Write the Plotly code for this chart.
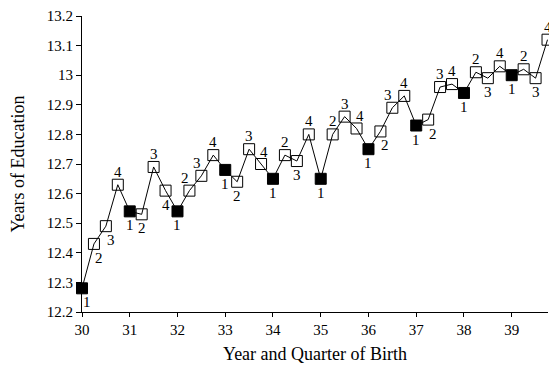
import plotly.graph_objects as go

years = [30 + i * 0.25 for i in range(40)]
quarters = ["1", "2", "3", "4"] * 10
education = [
    12.28, 12.43, 12.49, 12.63,
    12.54, 12.53, 12.69, 12.61,
    12.54, 12.61, 12.66, 12.73,
    12.68, 12.64, 12.75, 12.70,
    12.65, 12.73, 12.71, 12.80,
    12.65, 12.80, 12.86, 12.82,
    12.75, 12.81, 12.89, 12.93,
    12.83, 12.85, 12.96, 12.97,
    12.94, 13.01, 12.99, 13.03,
    13.00, 13.02, 12.99, 13.12,
]
label_side = [
    "below-right", "below-right", "below-right", "above",
    "below", "below", "above", "below",
    "below", "above-left", "above-left", "above",
    "below", "below", "above", "above-right",
    "below", "above", "below", "above",
    "below", "above", "above", "above-right",
    "below", "below-right", "above-left", "above",
    "below", "below-right", "above", "above",
    "below", "above", "below", "above",
    "below", "above", "below", "above",
]
x_ticks = [30, 31, 32, 33, 34, 35, 36, 37, 38, 39]
x_ticktext = ["30", "31", "32", "33", "34", "35", "36", "37", "38", "39"]
y_ticks = [12.2, 12.3, 12.4, 12.5, 12.6, 12.7, 12.8, 12.9, 13.0, 13.1, 13.2]
y_ticktext = ["12.2", "12.3", "12.4", "12.5", "12.6", "12.7", "12.8", "12.9", "13", "13.1", "13.2"]

symbols = ["square" if q == "1" else "square-open" for q in quarters]

font = "Liberation Serif"

fig = go.Figure()
fig.add_trace(go.Scatter(
    x=years, y=education,
    mode="lines+markers",
    line=dict(color="black", width=1),
    marker=dict(symbol=symbols, size=11, color="black", line=dict(width=1, color="black")),
    cliponaxis=False,
    showlegend=False,
))

# pixel offsets of the quarter labels relative to their marker
shifts = {
    "below": (0, -14),
    "below-right": (5, -14),
    "above": (0, 13),
    "above-left": (-4, 13),
    "above-right": (3, 12),
}
for xv, yv, q, side in zip(years, education, quarters, label_side):
    dx, dy = shifts[side]
    fig.add_annotation(
        x=xv, y=yv, text=q, showarrow=False,
        xshift=dx, yshift=dy,
        font=dict(family=font, size=15, color="black"),
    )

# page body has an 8px default margin, so the figure is sized to fit inside it
fig.update_layout(
    width=549, height=359,
    margin=dict(l=74, r=9, t=8, b=55, autoexpand=False),
    paper_bgcolor="white", plot_bgcolor="white",
    font=dict(family=font, size=15, color="black"),
    xaxis=dict(
        range=[30, 39.76], tickvals=x_ticks, ticktext=x_ticktext,
        showgrid=False, zeroline=False, showline=True, linecolor="black", linewidth=1,
        ticks="outside", ticklen=4, tickcolor="black", automargin=False,
        title=dict(text="Year and Quarter of Birth", standoff=10),
        tickfont=dict(family=font, size=15),
    ),
    yaxis=dict(
        range=[12.2, 13.2], tickvals=y_ticks, ticktext=y_ticktext,
        showgrid=False, zeroline=False, showline=True, linecolor="black", linewidth=1,
        ticks="outside", ticklen=5, tickcolor="black", automargin=False,
        title=dict(text="Years of Education", standoff=23),
        tickfont=dict(family=font, size=15),
    ),
)

fig.write_html("out.html")
